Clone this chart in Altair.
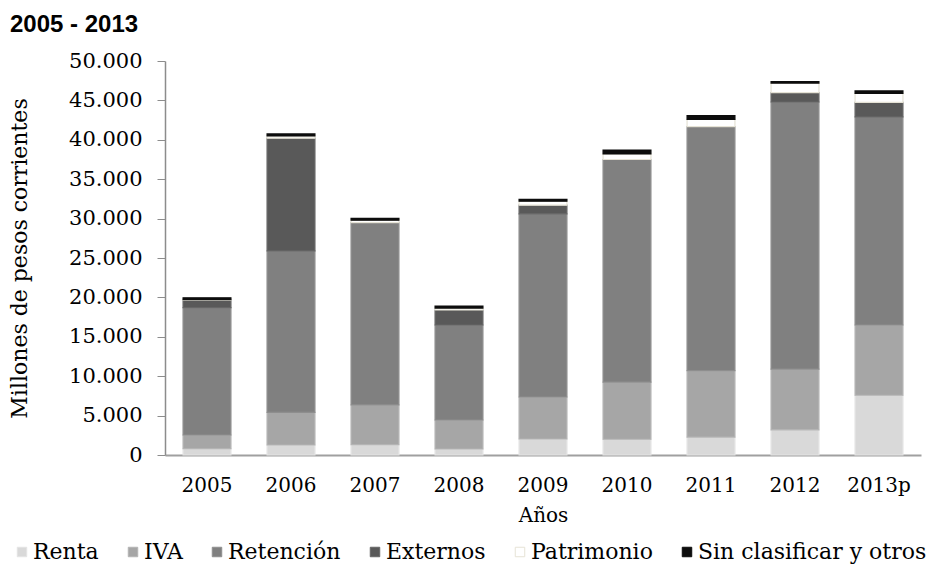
import altair as alt
import pandas as pd

years = ["2005", "2006", "2007", "2008", "2009", "2010", "2011", "2012", "2013p"]
series = ["Renta", "IVA", "Retención", "Externos", "Patrimonio", "Sin clasificar y otros"]

renta = [800, 1270, 1300, 760, 2030, 2000, 2280, 3200, 7580]
iva = [1740, 4130, 5050, 3680, 5330, 7260, 8420, 7700, 8920]
retencion = [16160, 20500, 23150, 12060, 23240, 28240, 30960, 33900, 26400]
externos = [970, 14300, 0, 1900, 1100, 0, 0, 1180, 1860]
patrimonio = [80, 290, 300, 250, 500, 700, 940, 1220, 1140]
sin_clasificar = [200, 250, 240, 250, 250, 500, 460, 200, 300]

fill_colors = ["#D9D9D9", "#A6A6A6", "#808080", "#595959", "#FFFFFF", "#0D0D0D"]
stroke_colors = ["#E4E4E4", "#B4B4B4", "#8E8E8E", "#666666", "#E6E3D6", "#0D0D0D"]

title_text = "2005 - 2013"

values = [renta, iva, retencion, externos, patrimonio, sin_clasificar]
rows = []
for si, (s, vals) in enumerate(zip(series, values)):
    for y, v in zip(years, vals):
        rows.append({"year": y, "series": s, "value": v, "idx": si})
df = pd.DataFrame(rows)

legend_props = dict(
    title=None,
    orient="none",
    legendX=-154,
    legendY=480,
    direction="horizontal",
    padding=0,
    symbolType="square",
    symbolSize=90,
    symbolStrokeWidth=1,
    labelFont="DejaVu Serif",
    labelFontSize=22,
    labelColor="black",
    labelLimit=0,
    columnPadding=23,
    labelOffset=0,
)

bars = (
    alt.Chart(df)
    .mark_bar(strokeWidth=1.2)
    .encode(
        x=alt.X(
            "year:N",
            sort=years,
            title="Años",
            scale=alt.Scale(paddingInner=0.43, paddingOuter=0.215),
            axis=alt.Axis(
                labelAngle=0,
                ticks=False,
                domainColor="#A0A0A0",
                domainWidth=2,
                labelFont="DejaVu Serif",
                labelFontSize=20,
                labelColor="black",
                labelPadding=20,
                titleFont="DejaVu Serif",
                titleFontSize=20,
                titleFontWeight="normal",
                titleColor="black",
                titlePadding=10,
            ),
        ),
        y=alt.Y(
            "value:Q",
            stack="zero",
            title="Millones de pesos corrientes",
            scale=alt.Scale(domain=[0, 50000], nice=False),
            axis=alt.Axis(
                values=list(range(0, 50001, 5000)),
                labelExpr="replace(format(datum.value, ','), ',', '.')",
                grid=False,
                ticks=True,
                tickSize=8,
                tickColor="#8C8C8C",
                domainColor="#8C8C8C",
                domainWidth=1.5,
                labelFont="DejaVu Serif",
                labelFontSize=21,
                labelColor="black",
                labelPadding=15,
                titleFont="DejaVu Serif",
                titleFontSize=22,
                titleFontWeight="normal",
                titleColor="black",
                titlePadding=37,
            ),
        ),
        color=alt.Color(
            "series:N",
            sort=series,
            scale=alt.Scale(domain=series, range=fill_colors),
            legend=alt.Legend(**legend_props),
        ),
        stroke=alt.Stroke(
            "series:N",
            sort=series,
            scale=alt.Scale(domain=series, range=stroke_colors),
            legend=alt.Legend(**legend_props),
        ),
        order=alt.Order("idx:Q"),
    )
)

title = (
    alt.Chart(pd.DataFrame({"t": [title_text]}))
    .mark_text(
        font="Liberation Sans",
        fontSize=24,
        fontWeight="bold",
        color="black",
        align="left",
        baseline="alphabetic",
    )
    .encode(x=alt.value(-155), y=alt.value(-29), text="t:N")
)

chart = (
    alt.layer(bars, title)
    .properties(
        width=756,
        height=394,
        autosize=alt.AutoSizeParams(type="none"),
        padding={"left": 157, "top": 53, "right": 10, "bottom": 110},
    )
    .configure_view(stroke=None)
)

chart.save("out.html", embed_options={"renderer": "svg", "actions": False})
